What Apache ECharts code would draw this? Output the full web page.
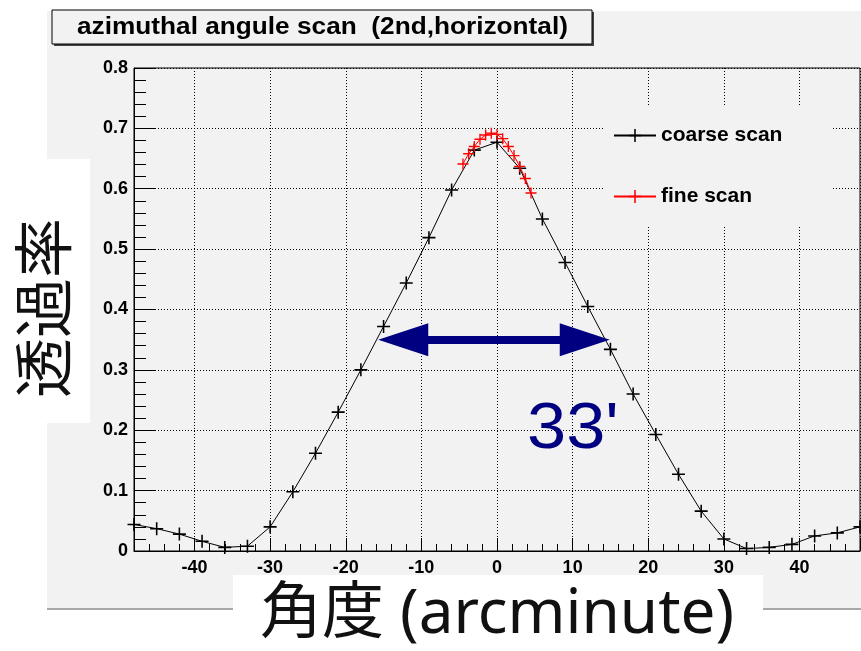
<!DOCTYPE html>
<html>
<head>
<meta charset="utf-8">
<script src="https://cdn.jsdelivr.net/npm/echarts@6/dist/echarts.min.js"></script>
<style>
html,body{margin:0;padding:0;background:#fff;}
#chart{width:861px;height:651px;}
</style>
</head>
<body>
<div id="chart"></div>
<script>
// ---- data ----
const xCoarse = [-48,-45,-42,-39,-36,-33,-30,-27,-24,-21,-18,-15,-12,-9,-6,-3,0,3,6,9,12,15,18,21,24,27,30,33,36,39,42,45,48];
const yCoarse = [0.044,0.037,0.028,0.016,0.006,0.008,0.040,0.098,0.162,0.230,0.300,0.372,0.444,0.519,0.598,0.664,0.677,0.634,0.550,0.478,0.405,0.334,0.260,0.193,0.127,0.066,0.020,0.004,0.006,0.011,0.025,0.030,0.040];
const xFine = [-4.5,-3.75,-3,-2.25,-1.5,-0.75,0,0.75,1.5,2.25,3,3.75,4.5];
const yFine = [0.641,0.658,0.670,0.682,0.689,0.692,0.690,0.683,0.670,0.655,0.637,0.617,0.593];
const seriesNames = ['coarse scan','fine scan'];
const titleText = 'azimuthal angule scan  (2nd,horizontal)';
const yAxisTitle = '透過率';
const xAxisTitle = '角度 (arcminute)';
const widthLabel = "33'";
const arrowFrom = [-12.4, 0.35];
const arrowTo = [11.6, 0.35];

const crossPath = 'path://M4.4,0h1.2v10h-1.2z M0,4.4h10v1.2h-10z';
const boldFont = 'Liberation Sans';

const chart = echarts.init(document.getElementById('chart'), null, {renderer:'canvas'});
const option = {
  animation: false,
  backgroundColor: '#ffffff',
  grid: {left:134, top:68, width:726, height:484, show:true, backgroundColor:'#f2f2f2', borderColor:'#000', borderWidth:1},
  xAxis: {
    type:'value', min:-48, max:48, splitNumber:10,
    name: xAxisTitle, nameLocation:'middle', nameGap:33,
    nameTextStyle:{fontFamily:"'Noto Sans','Noto Sans CJK JP'", fontSize:62, color:'#111'},
    axisLine:{show:true, onZero:false, lineStyle:{color:'#000', width:1}},
    axisTick:{show:true, inside:true, length:13, lineStyle:{color:'#000'}},
    minorTick:{show:true, splitNumber:5, length:7, lineStyle:{color:'#000'}},
    axisLabel:{show:true, showMinLabel:false, showMaxLabel:false, margin:8, color:'#000', fontFamily:boldFont, fontWeight:'bold', fontSize:18},
    splitLine:{show:true, lineStyle:{color:'#000', width:1, type:[1,2]}}
  },
  yAxis: {
    type:'value', min:0, max:0.8, interval:0.1,
    axisLine:{show:true, onZero:false, lineStyle:{color:'#000', width:1}},
    axisTick:{show:true, inside:true, length:22, lineStyle:{color:'#000'}},
    minorTick:{show:true, splitNumber:5, length:12, lineStyle:{color:'#000'}},
    axisLabel:{show:true, margin:6, color:'#000', fontFamily:boldFont, fontWeight:'bold', fontSize:18},
    splitLine:{show:true, lineStyle:{color:'#000', width:1, type:[1,2]}}
  },
  legend: {
    data: seriesNames, orient:'vertical', left:603, top:105,
    padding:[20,50,20,10], backgroundColor:'#f2f2f2',
    itemWidth:42, itemHeight:16, itemGap:40,
    textStyle:{fontFamily:boldFont, fontWeight:'bold', fontSize:21, color:'#000'}
  },
  series: [
    {
      name: seriesNames[0], type:'line',
      data: xCoarse.map((x,i)=>[x,yCoarse[i]]),
      symbol: crossPath, symbolSize:13, showAllSymbol:true,
      itemStyle:{color:'#000'}, lineStyle:{color:'#000', width:1},
      z:3,
      markLine: {
        silent:true, symbol:['triangle','triangle'], symbolSize:[33,50],
        label:{show:false},
        lineStyle:{color:'#000080', width:8, type:'solid'},
        data:[[{coord:arrowFrom},{coord:arrowTo}]]
      }
    },
    {
      name: seriesNames[1], type:'line',
      data: xFine.map((x,i)=>[x,yFine[i]]),
      symbol: crossPath, symbolSize:11, showAllSymbol:true,
      itemStyle:{color:'#ff0000'}, lineStyle:{color:'#ff0000', width:1},
      z:4
    }
  ],
  graphic: [
    {type:'rect', z:-10, shape:{x:47, y:11, width:814, height:598}, style:{fill:'#f2f2f2'}},
    {type:'rect', z:-9, shape:{x:47, y:608, width:814, height:2}, style:{fill:'#a8a8a8'}},
    {type:'rect', z:-5, shape:{x:0, y:159, width:90, height:264}, style:{fill:'#ffffff'}},
    {type:'rect', z:-5, shape:{x:233, y:575, width:530, height:76}, style:{fill:'#ffffff'}},
    {type:'rect', z:10, shape:{x:54, y:12, width:540, height:34}, style:{fill:'#444'}},
    {type:'rect', z:11, shape:{x:52, y:10, width:540, height:34}, style:{fill:'#f2f2f2', stroke:'#000', lineWidth:1}},
    {type:'text', z:12, x:77, y:28, scaleX:1.14, style:{text:titleText, x:0, y:0, align:'left', verticalAlign:'middle', font:'bold 23px "Liberation Sans"', fill:'#000'}},
    {type:'text', z:12, x:43, y:308, rotation:Math.PI/2, style:{text:yAxisTitle, x:0, y:0, align:'center', verticalAlign:'middle', font:'60px "Noto Sans CJK JP"', fill:'#111'}},
    {type:'text', z:12, x:527, y:430, scaleX:1.1, style:{text:widthLabel, x:0, y:0, align:'left', verticalAlign:'middle', font:'64px "Liberation Sans"', fill:'#000080'}}
  ]
};
chart.setOption(option);
</script>
</body>
</html>
